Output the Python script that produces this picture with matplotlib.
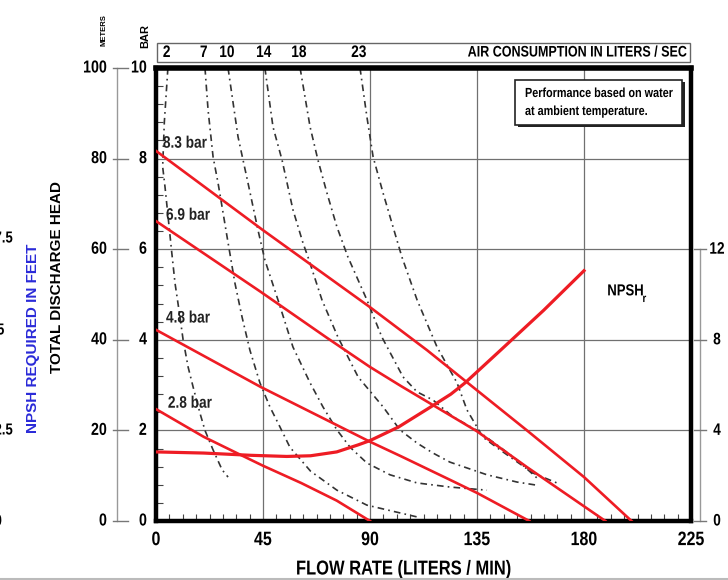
import numpy as np
import matplotlib.pyplot as plt
from matplotlib import transforms, patheffects
from matplotlib.patches import Rectangle

plt.rcParams['font.family'] = ['Liberation Sans', 'DejaVu Sans']

# ---- data ----
flow_ticks = [0, 45, 90, 135, 180, 225]
bar_ticks = [0, 2, 4, 6, 8, 10]
meter_ticks = [0, 20, 40, 60, 80, 100]
npsh_ticks = [0, 4, 8, 12]

# head curves (flow l/min, head bar) for each air pressure
flow_83 = [0, 45, 90, 114, 156, 180, 200]
head_83 = [8.17, 6.42, 4.72, 3.77, 2.0, 0.97, 0]
flow_69 = [0, 44, 72, 90, 103, 135, 156, 189]
head_69 = [6.62, 5.06, 4.04, 3.4, 2.98, 1.98, 1.19, 0]
flow_48 = [0, 44, 90, 103, 124, 135, 157]
head_48 = [4.22, 2.96, 1.75, 1.43, 0.9, 0.62, 0]
flow_28 = [0, 20, 34, 45, 61, 76, 90]
head_28 = [2.47, 1.86, 1.5, 1.22, 0.84, 0.45, 0]
pressure_labels = ['8.3 bar', '6.9 bar', '4.8 bar', '2.8 bar']

# NPSH required (feet)
npsh_flow = [0, 20, 40, 55, 65, 76, 85, 90, 102, 115, 124, 130, 145, 163, 180]
npsh_ft = [3.05, 3.0, 2.9, 2.85, 2.88, 3.05, 3.36, 3.55, 4.15, 5.0, 5.6, 6.1, 7.55, 9.3, 11.05]

# air consumption curves (l/sec)
air_labels = ['2', '7', '10', '14', '18', '23']
air_2_flow = [5, 3.5, 2.8, 3.8, 6.6, 8.0, 10.1, 11.4, 13.5, 15.6, 18.5, 20.6, 24, 27.8, 30.3]
air_2_head = [10, 8.8, 7.82, 7.37, 5.94, 5.25, 4.5, 4.0, 3.4, 2.96, 2.38, 2.0, 1.57, 1.13, 0.97]
air_7_flow = [20.6, 21.9, 24, 26.1, 27.8, 29.9, 33.2, 36.2, 39.5, 43.7, 47.9, 52.1, 56.3, 65, 76.1, 88.7, 109.8]
air_7_head = [10, 9.07, 8.04, 7.46, 6.93, 6.27, 5.25, 4.5, 3.77, 3.05, 2.52, 2.08, 1.63, 1.1, 0.68, 0.35, 0.09]
air_10_flow = [30.3, 34.5, 38.7, 42.9, 45.8, 51.3, 57.6, 64.8, 70.2, 76.1, 81.6, 88.7, 98.4, 109.8, 123.6, 139.2]
air_10_head = [10, 8.48, 7.46, 6.42, 5.76, 4.88, 3.84, 3.05, 2.52, 2.01, 1.63, 1.28, 1.02, 0.84, 0.75, 0.68]
air_14_flow = [45.8, 49.2, 53, 57.6, 61.8, 63.9, 69.8, 76.5, 85, 95.5, 102.6, 109.8, 116.5, 123.6, 139.2, 151.8, 160.2]
air_14_head = [10, 8.7, 7.97, 6.87, 6.14, 5.83, 4.88, 4.06, 3.18, 2.52, 2.01, 1.72, 1.5, 1.3, 1.02, 0.86, 0.79]
air_18_flow = [60.6, 64.8, 68.1, 71.9, 76.1, 80.7, 88.7, 95, 103.9, 109.8, 116.5, 124.9, 135, 144.7, 151.8, 160.2]
air_18_head = [10, 8.7, 7.97, 7.24, 6.49, 5.83, 4.88, 4.06, 3.18, 2.85, 2.67, 2.3, 2.0, 1.63, 1.35, 0.95]
air_23_flow = [85.8, 88.7, 91.3, 95.5, 99.7, 103.4, 109.8, 118.2, 126.6, 130.8, 137.5, 144.7, 158.5, 168.6]
air_23_head = [10, 8.92, 8.04, 7.24, 6.49, 5.83, 4.88, 3.84, 3.05, 2.45, 1.85, 1.57, 1.06, 0.84]


class Squeeze(patheffects.AbstractPathEffect):
    """Draw text narrower (fake condensed font); align: 0 left, .5 center, 1 right."""
    def __init__(self, sx=0.82, align=0.0):
        super().__init__()
        self.sx, self.align = sx, align

    def draw_path(self, renderer, gc, tpath, affine, rgbFace=None):
        w = tpath.get_extents().x1
        pre = transforms.Affine2D().scale(self.sx, 1).translate((1 - self.sx) * self.align * w, 0)
        renderer.draw_path(gc, tpath, pre + affine, rgbFace)


def narrow(align=0.0, sx=0.82):
    return [Squeeze(sx, align)]


W, H = 728, 580
fig = plt.figure(figsize=(W / 100, H / 100), dpi=100)
ax = fig.add_axes([156 / W, 1 - 521 / H, 535 / W, 453 / H])
ax.set_xlim(0, 225)
ax.set_ylim(0, 10)

red = '#ee1c24'
grid_c = '#707070'
for x in flow_ticks[1:-1]:
    ax.axvline(x, color=grid_c, lw=0.9, zorder=1)
for y in bar_ticks[1:-1]:
    ax.axhline(y, color=grid_c, lw=0.9, zorder=1)

# air consumption curves
air_curves = [(air_2_flow, air_2_head), (air_7_flow, air_7_head), (air_10_flow, air_10_head),
              (air_14_flow, air_14_head), (air_18_flow, air_18_head), (air_23_flow, air_23_head)]
for fx, hy in air_curves:
    ax.plot(fx, hy, color='#333333', lw=1.2, ls=(0, (4, 2.5, 1, 2.5)), zorder=2, clip_on=False)

# head curves
for fx, hy in [(flow_83, head_83), (flow_69, head_69), (flow_48, head_48), (flow_28, head_28)]:
    ax.plot(fx, hy, color=red, lw=1.9, zorder=3)

lbl_pos = [(2.9, 8.34), (4.2, 6.75), (4.2, 4.48), (5.0, 2.6)]
for (x, y), t in zip(lbl_pos, pressure_labels):
    ax.text(x, y, t, fontsize=12, fontweight='bold', va='center', ha='left', color='#222222',
            zorder=4, path_effects=narrow(0))

# NPSH on its own 0-20 ft scale
ax2 = ax.twinx()
ax2.set_ylim(0, 20)
ax2.axis('off')
ax2.plot(npsh_flow, npsh_ft, color=red, lw=2.3, zorder=3)
ax.text(189.8, 5.08, 'NPSH', fontsize=11.5, fontweight='bold', va='center', ha='left',
        path_effects=narrow(0))
ax.text(204.6, 4.9, 'r', fontsize=8.5, fontweight='bold', va='center', ha='left',
        path_effects=narrow(0))

# spines and ticks
for s in ax.spines.values():
    s.set_linewidth(3.2)
ax.spines['top'].set_linewidth(4)
ax.set_xticks(flow_ticks)
ax.set_xticklabels([str(v) for v in flow_ticks], fontsize=14, fontweight='bold')
for t in ax.get_xticklabels():
    t.set_path_effects(narrow(0.5))
ax.set_xticks(np.arange(0, 225, 45 / 8), minor=True)
ax.set_yticks(bar_ticks)
ax.set_yticklabels([])
ax.set_yticks(np.arange(0, 10, 0.4), minor=True)
ax.tick_params(axis='both', which='major', length=0, pad=8)
ax.tick_params(axis='x', which='minor', direction='in', length=5, width=0.8, color='#444444')
ax.tick_params(axis='y', which='minor', direction='in', length=5, width=0.8, color='#444444')
ax.set_xlabel('FLOW RATE (LITERS / MIN)', fontsize=14.5, fontweight='bold', labelpad=4,
              path_effects=narrow(0.5))
ax.xaxis.set_label_coords((404 - 156) / 535, -0.085)

# meters / bar axis on the left
tl = transforms.blended_transform_factory(fig.transFigure, ax.transData)
ax.plot([117 / W, 117 / W], [0, 10], transform=tl, color='#999999', lw=1, clip_on=False)
for m, b in zip(meter_ticks, bar_ticks):
    ax.plot([113 / W, 128 / W], [b, b], transform=tl, color='#777777', lw=1, clip_on=False)
    ax.text(107 / W, b, str(m), transform=tl, ha='right', va='center', fontsize=12.5,
            fontweight='bold', path_effects=narrow(1))
    ax.text(147 / W, b, str(b), transform=tl, ha='right', va='center', fontsize=12.5,
            fontweight='bold', path_effects=narrow(1))

# NPSH axis on the right
tr = transforms.blended_transform_factory(fig.transFigure, ax2.transData)
ax2.plot([700 / W, 700 / W], [0, 12], transform=tr, color='#999999', lw=1, clip_on=False)
for n in npsh_ticks:
    ax2.plot([694 / W, 706 / W], [n, n], transform=tr, color='#777777', lw=1, clip_on=False)
    ax2.text(717 / W, n, str(n), transform=tr, ha='center', va='center', fontsize=12,
             fontweight='bold', path_effects=narrow(0.5))

# cut-off labels at the far left
for t, xp, yp in [('7.5', 13, 238), ('5', 4.5, 330), ('2.5', 13, 430), ('0', 2, 521)]:
    fig.text(xp / W, 1 - yp / H, t, ha='right', va='center', fontsize=11.5, fontweight='bold',
             path_effects=narrow(1))

fig.text(57 / W, 1 - 277 / H, 'TOTAL DISCHARGE HEAD', rotation=90, ha='center', va='center',
         fontsize=11, fontweight='bold')
fig.text(33 / W, 1 - 338 / H, 'NPSH REQUIRED IN FEET', rotation=90, ha='center', va='center',
         fontsize=11, fontweight='bold', color='#2a2ad8')
fig.text(104 / W, 1 - 30 / H, 'METERS', rotation=90, ha='center', va='center', fontsize=5.5, fontweight='bold')
fig.text(145 / W, 1 - 36 / H, 'BAR', rotation=90, ha='center', va='center', fontsize=8, fontweight='bold')

# air consumption header box
fig.patches.append(Rectangle((157 / W, 1 - 62 / H), 533 / W, 19 / H, transform=fig.transFigure,
                             facecolor='white', edgecolor='#666666', lw=1, zorder=1))
tt = transforms.blended_transform_factory(ax.transData, fig.transFigure)
for lab, (fx, hy) in zip(air_labels, air_curves):
    fig.text(fx[0] - 0.5, 1 - 52.5 / H, lab, transform=tt, ha='center', va='center',
             fontsize=12, fontweight='bold', zorder=3, path_effects=narrow(0.5))
fig.text(686 / W, 1 - 52.5 / H, 'AIR CONSUMPTION IN LITERS / SEC', ha='right', va='center',
         fontsize=11, fontweight='bold', zorder=3, path_effects=narrow(1))

# note box
fig.patches.append(Rectangle((518 / W, 1 - 127 / H), 167 / W, 45 / H, transform=fig.transFigure,
                             facecolor='#222222', edgecolor='none', zorder=5))
fig.patches.append(Rectangle((515 / W, 1 - 125 / H), 167 / W, 45 / H, transform=fig.transFigure,
                             facecolor='white', edgecolor='#222222', lw=1.2, zorder=6))
fig.text(525 / W, 1 - 94 / H, 'Performance based on water', fontsize=9.5, fontweight='bold',
         va='center', zorder=7, path_effects=narrow(0))
fig.text(525 / W, 1 - 112 / H, 'at ambient temperature.', fontsize=9.5, fontweight='bold',
         va='center', zorder=7, path_effects=narrow(0))

fig.lines.append(plt.Line2D([0, 1], [1 - 578.5 / H, 1 - 578.5 / H], transform=fig.transFigure,
                            color='#bbbbbb', lw=1.5))

fig.savefig('out.png', dpi=100)
